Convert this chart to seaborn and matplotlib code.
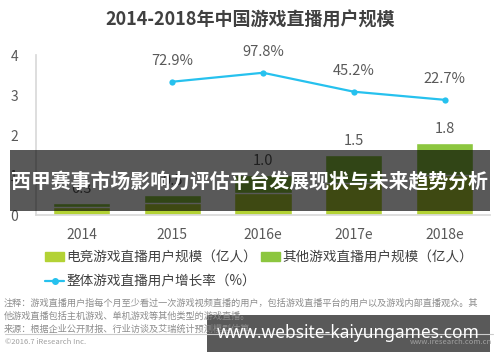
import matplotlib
matplotlib.use('Agg')
import matplotlib.pyplot as plt
import seaborn as sns
from matplotlib.patches import Patch, Rectangle
from matplotlib.lines import Line2D

# data
years = ['2014', '2015', '2016e', '2017e', '2018e']
total_users = [0.3, 0.5, 1.0, 1.5, 1.8]          # 亿人, stacked total
esports_users = [0.2, 0.3, 0.55, 0.8, 1.0]       # hidden under banner, estimated
growth_years = ['2015', '2016e', '2017e', '2018e']
growth_rate = [72.9, 97.8, 45.2, 22.7]
yticks = [0, 1, 2, 3, 4]

title = '2014-2018年中国游戏直播用户规模'
legend_labels = ['电竞游戏直播用户规模（亿人）', '其他游戏直播用户规模（亿人）', '整体游戏直播用户增长率（%）']
notes = ['注释：游戏直播用户指每个月至少看过一次游戏视频直播的用户，包括游戏直播平台的用户以及游戏内部直播观众。其',
         '他游戏直播包括主机游戏、单机游戏等其他类型的游戏直播。',
         '来源：根据企业公开财报、行业访谈及艾瑞统计预测模型估算。']
banner_text = '西甲赛事市场影响力评估平台发展现状与未来趋势分析'
site_text = 'www.website-kaiyungames.com'

c_esports = '#b3d235'
c_other = '#8cc63f'
c_line = '#26c1ee'
c_text = '#595959'

sns.set_theme(style='white')
plt.rcParams['font.family'] = ['Noto Sans CJK SC', 'DejaVu Sans']

fig = plt.figure(figsize=(5, 3.62), dpi=100)
ax = fig.add_axes([0.072, 0.406, 0.908, 0.442])

sns.barplot(x=years, y=total_users, color=c_other, width=0.63, saturation=1, ax=ax)
sns.barplot(x=years, y=esports_users, color=c_esports, width=0.63, saturation=1, ax=ax)
ax.bar_label(ax.containers[0], labels=[f'{v:.1f}' for v in total_users],
             padding=5, fontsize=10.5, color=c_text)

ax.set_ylim(0, 4)
ax.set_xlim(-0.5, 4.5)
ax.set_yticks(yticks)
ax.tick_params(axis='y', length=0, pad=13, labelsize=10, labelcolor=c_text)
ax.tick_params(axis='x', length=0, pad=9, labelsize=10, labelcolor=c_text)
for s in ['top', 'right']:
    ax.spines[s].set_visible(False)
ax.spines['left'].set_color('#d9d9d9')
ax.spines['bottom'].set_color('#d9d9d9')

# growth rate on a hidden second axis
ax2 = ax.twinx()
xs = [years.index(y) for y in growth_years]
sns.lineplot(x=xs, y=growth_rate, color=c_line, marker='o', markersize=4.5,
             markeredgewidth=0, linewidth=1.6, ax=ax2)
ax2.set_ylim(-297, 147)
ax2.set_xlim(-0.5, 4.5)
ax2.axis('off')
for x, v in zip(xs, growth_rate):
    ax2.annotate(f'{v}%', (x, v), xytext=(0, 15), textcoords='offset points',
                 ha='center', va='center', fontsize=10.5, color=c_text)

fig.text(0.5, 0.945, title, ha='center', va='center', fontsize=13,
         fontweight='bold', color='#404040')

handles = [Patch(color=c_esports),
           Line2D([], [], color=c_line, marker='o', markersize=4, linewidth=1.6),
           Patch(color=c_other)]
fig.legend(handles, [legend_labels[0], legend_labels[2], legend_labels[1]],
           ncol=2, loc='upper left', bbox_to_anchor=(0.09, 0.308), frameon=False,
           fontsize=9.8, handlelength=1.4, handleheight=0.6, handletextpad=0.15,
           columnspacing=0.3, labelspacing=0.75, borderaxespad=0, borderpad=0,
           labelcolor='#404040')

for i, line in enumerate(notes):
    fig.text(0.008, 1 - (303 + 13 * i) / 362, line, ha='left', va='center',
             fontsize=6.6, color='#8c8c8c')
fig.add_artist(Line2D([0.01, 0.985], [1 - 334 / 362] * 2, color='#cccccc', linewidth=0.8))
fig.text(0.01, 1 - 342 / 362, '©2016.7 iResearch Inc.', ha='left', va='center',
         fontsize=5.5, color='#a0a0a0')
fig.text(0.985, 1 - 342 / 362, 'www.iresearch.com.cn', ha='right', va='center',
         fontsize=5.5, color='#a0a0a0')

# overlay banners
fig.add_artist(Rectangle((0.02, 0.417), 0.96, 0.1685, transform=fig.transFigure,
                         facecolor='black', alpha=0.65, linewidth=0))
fig.text(0.5, 1 - 182 / 362, banner_text, ha='center', va='center', fontsize=14.3,
         fontweight='bold', color='white')
fig.add_artist(Rectangle((0.414, 0.0276), 0.566, 0.102, transform=fig.transFigure,
                         facecolor='black', alpha=0.65, linewidth=0))
fig.text(0.696, 1 - 333 / 362, site_text, ha='center', va='center', fontsize=12.5,
         fontweight='bold', color='white', family='Noto Sans')

fig.savefig('out.png', dpi=100)
